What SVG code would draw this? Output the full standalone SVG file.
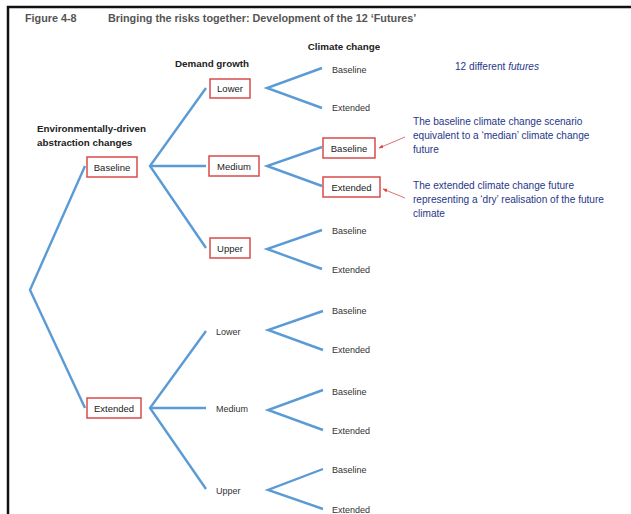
<svg xmlns="http://www.w3.org/2000/svg" width="631" height="514" viewBox="0 0 631 514">
  <defs>
    <style>
      .frame { stroke: #111; stroke-width: 2.5; fill: none; }
      .branch { stroke: #5b9bd5; stroke-width: 2.4; fill: none; stroke-linejoin: miter; }
      .box { fill: #fff; stroke: #d94b4b; stroke-width: 1.5; }
      .lbl { font-family: "Liberation Sans", Arial, sans-serif; font-size: 9px; fill: #333; }
      .blbl { font-family: "Liberation Sans", Arial, sans-serif; font-size: 9.5px; fill: #222; text-anchor: middle; }
      .head { font-family: "Liberation Sans", Arial, sans-serif; font-size: 9.8px; font-weight: bold; fill: #222; }
      .title { font-family: "Liberation Sans", Arial, sans-serif; font-size: 10.8px; font-weight: bold; fill: #555; }
      .note { font-family: "Liberation Sans", Arial, sans-serif; font-size: 10.1px; fill: #27378a; }
      .pointer { stroke: #d94b4b; stroke-width: 0.8; fill: none; }
    </style>
    <marker id="redhead" viewBox="0 0 10 10" refX="9" refY="5" markerWidth="6" markerHeight="6" orient="auto">
      <path d="M0,1 L10,5 L0,9 z" fill="#d94b4b"/>
    </marker>
  </defs>

  <rect width="631" height="514" fill="#fff"/>
  <!-- page frame -->
  <path class="frame" d="M8,514 V7 H631"/>

  <!-- heading -->
  <text class="title" x="25" y="22">Figure 4-8</text>
  <text class="title" x="108" y="22">Bringing the risks together: Development of the 12 ‘Futures’</text>

  <!-- column headings -->
  <text class="head" x="344" y="50" text-anchor="middle">Climate change</text>
  <text class="head" x="175" y="67">Demand growth</text>
  <text class="head" x="37" y="132">Environmentally-driven</text>
  <text class="head" x="37" y="146">abstraction changes</text>

  <!-- connectors -->
  <g id="connectors">
    <path class="branch" d="M85,166 L30,290 L85,408"/>
    <path class="branch" d="M206,88 L150,166 L206,248"/>
    <path class="branch" d="M150,166 H206"/>
    <path class="branch" d="M206,331 L150,408 L206,489"/>
    <path class="branch" d="M150,408 H206"/>
    <path class="branch" d="M322,68 L267,88 L322,108"/>
    <path class="branch" d="M322,147 L267,166 L322,186"/>
    <path class="branch" d="M322,230 L267,249 L322,269"/>
    <path class="branch" d="M323,311 L268,330 L323,350"/>
    <path class="branch" d="M323,390 L268,410 L323,430"/>
    <path class="branch" d="M323,469 L268,490 L323,509"/>
    <path class="pointer" d="M405,137 L379,148" marker-end="url(#redhead)"/>
    <path class="pointer" d="M405,198 L383,189" marker-end="url(#redhead)"/>
  </g>

  <!-- abstraction change nodes -->
  <g id="abs-baseline">
    <rect class="box" x="87" y="157" width="50" height="20"/>
    <text class="blbl" x="112" y="170.5">Baseline</text>
  </g>
  <g id="abs-extended">
    <rect class="box" x="87" y="398" width="54" height="20"/>
    <text class="blbl" x="114" y="411.5">Extended</text>
  </g>

  <!-- demand growth nodes -->
  <g id="dg-b-lower">
    <rect class="box" x="210" y="79" width="40" height="19"/>
    <text class="blbl" x="230" y="92">Lower</text>
  </g>
  <g id="dg-b-medium">
    <rect class="box" x="209" y="156" width="50" height="20"/>
    <text class="blbl" x="234" y="169.5">Medium</text>
  </g>
  <g id="dg-b-upper">
    <rect class="box" x="210" y="238" width="40" height="20"/>
    <text class="blbl" x="230" y="251.5">Upper</text>
  </g>
  <g id="dg-e-lower"><text class="lbl" x="216" y="335">Lower</text></g>
  <g id="dg-e-medium"><text class="lbl" x="216" y="412">Medium</text></g>
  <g id="dg-e-upper"><text class="lbl" x="216" y="494">Upper</text></g>

  <!-- climate change nodes -->
  <g id="cc-bl-baseline"><text class="lbl" x="332" y="73">Baseline</text></g>
  <g id="cc-bl-extended"><text class="lbl" x="332" y="111">Extended</text></g>
  <g id="cc-bm-baseline">
    <rect class="box" x="323" y="138" width="52" height="20"/>
    <text class="blbl" x="349" y="151.5">Baseline</text>
  </g>
  <g id="cc-bm-extended">
    <rect class="box" x="323" y="177" width="57" height="20"/>
    <text class="blbl" x="351.5" y="190.5">Extended</text>
  </g>
  <g id="cc-bu-baseline"><text class="lbl" x="332" y="234">Baseline</text></g>
  <g id="cc-bu-extended"><text class="lbl" x="332" y="273">Extended</text></g>
  <g id="cc-el-baseline"><text class="lbl" x="332" y="314">Baseline</text></g>
  <g id="cc-el-extended"><text class="lbl" x="332" y="353">Extended</text></g>
  <g id="cc-em-baseline"><text class="lbl" x="332" y="395">Baseline</text></g>
  <g id="cc-em-extended"><text class="lbl" x="332" y="434">Extended</text></g>
  <g id="cc-eu-baseline"><text class="lbl" x="332" y="473">Baseline</text></g>
  <g id="cc-eu-extended"><text class="lbl" x="332" y="513">Extended</text></g>

  <!-- notes -->
  <text class="note" x="455" y="70">12 different <tspan font-style="italic">futures</tspan></text>
  <text class="note" x="413" y="125">The baseline climate change scenario</text>
  <text class="note" x="413" y="139">equivalent to a ‘median’ climate change</text>
  <text class="note" x="413" y="153">future</text>
  <text class="note" x="413" y="189">The extended climate change future</text>
  <text class="note" x="413" y="203">representing a ‘dry’ realisation of the future</text>
  <text class="note" x="413" y="217">climate</text>
</svg>
